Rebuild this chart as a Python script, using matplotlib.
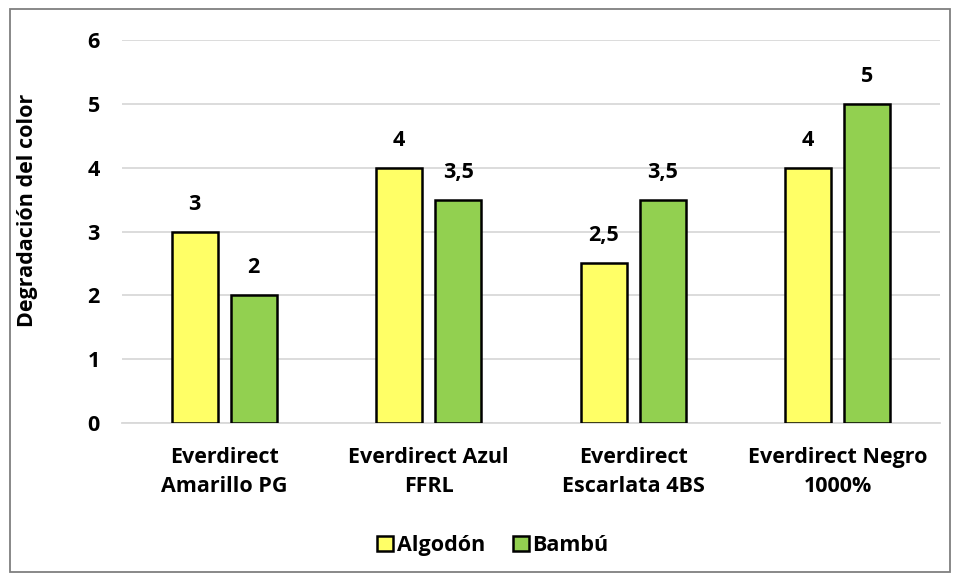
import matplotlib.pyplot as plt
import numpy as np
from matplotlib.patches import Rectangle

categorias = ['Everdirect\nAmarillo PG', 'Everdirect Azul\nFFRL',
              'Everdirect\nEscarlata 4BS', 'Everdirect Negro\n1000%']
algodon = [3, 4, 2.5, 4]
bambu = [2, 3.5, 3.5, 5]
etiquetas_algodon = ['3', '4', '2,5', '4']
etiquetas_bambu = ['2', '3,5', '3,5', '5']

plt.rcParams['font.family'] = ['Open Sans', 'DejaVu Sans']
plt.rcParams['font.weight'] = 'bold'
fs = 15.5

fig = plt.figure(figsize=(9.57, 5.79), dpi=100)
ax = fig.add_axes([0.1275, 0.2694, 0.8545, 0.6615])

# borde exterior del grafico
fig.patches.append(Rectangle((0.0105, 0.012), 0.982, 0.972, transform=fig.transFigure,
                             fill=False, edgecolor='#7f7f7f', linewidth=1.3))

x = np.arange(len(categorias))
ancho = 0.225
desp = 0.144
b1 = ax.bar(x - desp, algodon, ancho, color='#ffff66', edgecolor='black', linewidth=1.8,
            label='Algodón', zorder=3)
b2 = ax.bar(x + desp, bambu, ancho, color='#92d050', edgecolor='black', linewidth=1.8,
            label='Bambú', zorder=3)

for rect, txt in zip(b1, etiquetas_algodon):
    ax.text(rect.get_x() + rect.get_width() / 2, rect.get_height() + 0.43, txt,
            ha='center', va='center', fontsize=fs, fontweight='bold')
for rect, txt in zip(b2, etiquetas_bambu):
    ax.text(rect.get_x() + rect.get_width() / 2, rect.get_height() + 0.43, txt,
            ha='center', va='center', fontsize=fs, fontweight='bold')

ax.set_xlim(-0.5, 3.5)
ax.set_ylim(0, 6)
ax.set_yticks(range(0, 7))
ax.yaxis.grid(True, color='#d9d9d9', linewidth=1.3, zorder=0)
ax.set_axisbelow(True)
for s in ['top', 'right', 'left']:
    ax.spines[s].set_visible(False)
ax.spines['bottom'].set_color('#d9d9d9')
ax.spines['bottom'].set_linewidth(1.3)
ax.tick_params(axis='both', length=0, labelsize=fs)
ax.tick_params(axis='y', pad=16)
ax.tick_params(axis='x', pad=17)
ax.set_xticks(x)
ax.set_xticklabels(categorias, fontweight='bold', linespacing=1.55)
for lbl in ax.get_yticklabels():
    lbl.set_fontweight('bold')
ax.set_ylabel('Degradación del color', fontsize=fs, fontweight='bold')
ax.yaxis.set_label_coords(-0.103, 0.556)

leg = fig.legend(handles=[b1, b2], loc='center', bbox_to_anchor=(0.515, 0.058), ncol=2,
                 frameon=False, fontsize=fs, handlelength=0.75, handleheight=0.75,
                 handletextpad=0.15, columnspacing=1.3)
for t in leg.get_texts():
    t.set_fontweight('bold')

fig.savefig('out.png', dpi=100)
